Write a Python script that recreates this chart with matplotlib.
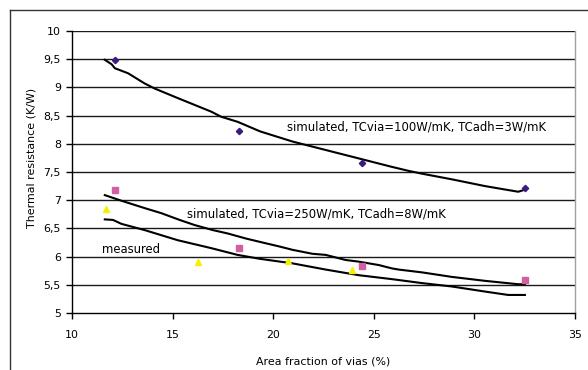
import matplotlib
matplotlib.use("Agg")
import matplotlib.pyplot as plt
from matplotlib.lines import Line2D

plt.rcParams['font.family'] = ['DejaVu Sans']

# Measured points per series
via_fraction_a = [12.15, 18.3, 24.4, 32.5]
r_diamond = [9.48, 8.22, 7.66, 7.21]

via_fraction_b = [12.15, 18.3, 24.4, 32.5]
r_square = [7.18, 6.16, 5.83, 5.59]

via_fraction_c = [11.67, 16.25, 20.75, 23.9]
r_triangle = [6.84, 5.90, 5.92, 5.77]

# Simulation curve TCvia=100W/mK, TCadh=3W/mK
sim100_x = [11.63, 11.97, 12.13, 12.79, 13.61, 14.11, 15.26, 16.09, 16.92, 17.41,
            18.23, 19.35, 20.96, 22.61, 24.26, 25.91, 26.73, 27.4, 28.88, 30.53,
            31.68, 32.18, 32.45]
sim100_y = [9.49, 9.41, 9.34, 9.25, 9.07, 8.98, 8.81, 8.69, 8.57, 8.48,
            8.39, 8.22, 8.04, 7.89, 7.74, 7.59, 7.52, 7.47, 7.37, 7.25,
            7.18, 7.15, 7.18]

# Simulation curve TCvia=250W/mK, TCadh=8W/mK
sim250_x = [11.63, 12.46, 13.61, 14.44, 15.35, 16.09, 17.0, 17.74, 18.65, 19.35,
            20.3, 20.96, 21.95, 22.61, 23.6, 24.26, 25.25, 25.91, 26.24, 27.4,
            28.88, 30.53, 32.18, 32.51]
sim250_y = [7.09, 6.99, 6.86, 6.77, 6.65, 6.56, 6.47, 6.41, 6.32, 6.26,
            6.18, 6.12, 6.05, 6.03, 5.94, 5.91, 5.85, 5.79, 5.77, 5.72,
            5.64, 5.57, 5.51, 5.51]

# Measured trend curve
meas_x = [11.63, 12.04, 12.46, 13.61, 15.26, 16.92, 18.23, 19.35, 20.96, 22.61,
          24.26, 25.91, 27.4, 28.88, 30.53, 31.68, 32.51]
meas_y = [6.66, 6.65, 6.58, 6.47, 6.29, 6.15, 6.03, 5.96, 5.88, 5.77,
          5.67, 5.60, 5.53, 5.47, 5.38, 5.32, 5.32]

x_ticks = [10, 15, 20, 25, 30, 35]
y_ticks = [5, 5.5, 6, 6.5, 7, 7.5, 8, 8.5, 9, 9.5, 10]
y_tick_labels = ['5', '5,5', '6', '6,5', '7', '7,5', '8', '8,5', '9', '9,5', '10']

W, H = 588, 370
fig = plt.figure(figsize=(W / 100, H / 100), dpi=100)
ax = fig.add_axes([72 / W, 1 - 313 / H, (575 - 72) / W, (313 - 31) / H])

ax.set_xlim(10, 35)
ax.set_ylim(5, 10)

for yv in y_ticks[1:]:
    ax.axhline(yv, color='#1a1a1a', lw=1.0, zorder=1)

ax.plot(sim100_x, sim100_y, color='black', lw=1.5, zorder=3)
ax.plot(sim250_x, sim250_y, color='black', lw=1.5, zorder=3)
ax.plot(meas_x, meas_y, color='black', lw=1.5, zorder=3)

ax.plot(via_fraction_a, r_diamond, linestyle='none', marker='D', ms=3.2,
        color='#3b1b80', zorder=4)
ax.plot(via_fraction_b, r_square, linestyle='none', marker='s', ms=4.0,
        color='#d060a0', zorder=4)
ax.plot(via_fraction_c, r_triangle, linestyle='none', marker='^', ms=5,
        color='#f2f200', zorder=4)

fs = 7.9
fs_note = 8.4
ax.text(20.69, 8.30, 'simulated, TCvia=100W/mK, TCadh=3W/mK', fontsize=fs_note,
        ha='left', va='center', zorder=5)
ax.text(15.74, 6.76, 'simulated, TCvia=250W/mK, TCadh=8W/mK', fontsize=fs_note,
        ha='left', va='center', zorder=5)
ax.text(11.47, 6.12, 'measured', fontsize=fs_note, ha='left', va='center', zorder=5)

ax.set_xticks(x_ticks)
ax.set_xticklabels([str(v) for v in x_ticks], fontsize=fs)
ax.set_yticks(y_ticks)
ax.set_yticklabels(y_tick_labels, fontsize=fs)
ax.tick_params(axis='both', direction='out', length=4, width=1, color='black',
               pad=4)
ax.tick_params(axis='x', pad=8)

ax.spines['top'].set_visible(False)
ax.spines['right'].set_color('#a0a0a0')
ax.spines['right'].set_linewidth(1.0)
ax.spines['left'].set_color('black')
ax.spines['bottom'].set_color('black')
ax.spines['left'].set_linewidth(1.0)
ax.spines['bottom'].set_linewidth(1.0)

ax.set_xlabel('Area fraction of vias (%)', fontsize=fs)
ax.set_ylabel('Thermal resistance (K/W)', fontsize=fs)
ax.xaxis.set_label_coords((323 - 72) / (575 - 72), -(357 - 313) / (313 - 31))
ax.yaxis.set_label_coords(-(72 - 36) / (575 - 72), (313 - 158) / (313 - 31))

# Outer chart frame
fig.add_artist(Line2D([10 / W, 10 / W], [0, 1 - 10 / H], transform=fig.transFigure,
                      color='#333333', lw=1.0))
fig.add_artist(Line2D([10 / W, 1], [1 - 10 / H, 1 - 10 / H], transform=fig.transFigure,
                      color='#333333', lw=1.0))

fig.savefig('out.png', dpi=100, facecolor='white')
